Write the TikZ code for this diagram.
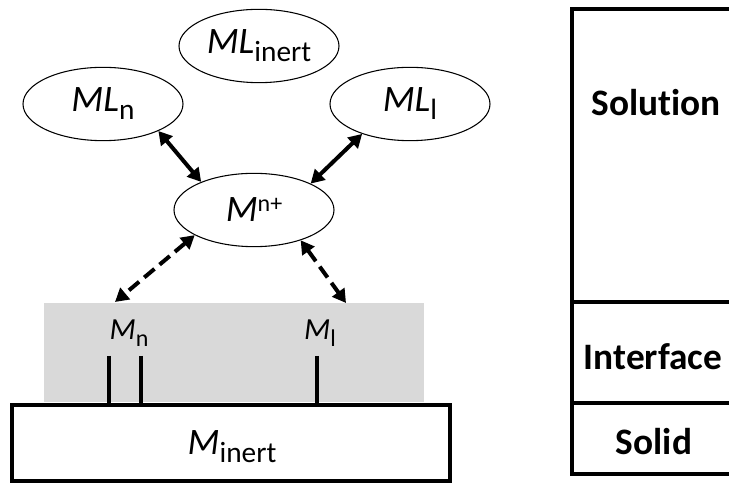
\documentclass[tikz,border=0pt]{standalone}
\usepackage{fontspec}
\setmainfont[Ligatures=NoCommon]{Carlito}
\usetikzlibrary{arrows.meta,shapes.geometric}
\newcommand\bigf{\fontsize{28}{30}\selectfont}
\newcommand\subf{\fontsize{22}{24}\selectfont}
\newcommand\supf{\fontsize{18}{20}\selectfont}
\newcommand\smallf{\fontsize{23}{26}\selectfont}
\newcommand\smsubf{\fontsize{18}{20}\selectfont}
\begin{document}
\begin{tikzpicture}[x=0.75pt,y=-0.75pt,
  ell/.style={ellipse,draw,line width=0.8pt,minimum width=120pt,minimum height=55pt,inner sep=0pt},
  solidarr/.style={line width=3pt,{Triangle[length=10pt,width=11pt]}-{Triangle[length=10pt,width=11pt]}},
  dasharr/.style={solidarr,dash pattern=on 10pt off 5pt},
  thickline/.style={line width=3pt},
  lbl/.style={inner sep=0pt}]
\useasboundingbox (0,0) rectangle (729,484);
\clip (0,0) rectangle (729,484);
% gray interface band
\fill[fill={rgb,255:red,217;green,217;blue,217}] (44,303) rectangle (424,402);
% pillars
\draw[thickline] (109,356) -- (109,404);
\draw[thickline] (141,356) -- (141,404);
\draw[thickline] (317,356) -- (317,404);
% inert solid
\node[draw,line width=3pt,minimum width=329pt,minimum height=57pt,inner sep=0pt] (Mi) at (231,443) {};
\node[lbl] (Mit) at (232,447) {\bigf\itshape M\upshape\raisebox{-6pt}{\subf inert}};
% ellipses
\node[ell] (MLi) at (259,46) {\bigf\itshape ML\upshape\raisebox{-6pt}{\subf inert}};
\node[ell] (MLn) at (103,104) {\bigf\itshape ML\upshape\raisebox{-6pt}{\subf n}};
\node[ell] (MLl) at (410,104) {\bigf\itshape ML\upshape\raisebox{-6pt}{\subf l}};
\node[ell] (Mnp) at (254,210) {\bigf\itshape M\upshape\raisebox{8pt}{\supf n+}};
% surface labels
\node[lbl] (Mn) at (129,333) {\smallf\itshape M\upshape\raisebox{-5pt}{\smsubf n}};
\node[lbl] (Ml) at (320,333) {\smallf\itshape M\upshape\raisebox{-5pt}{\smsubf l}};
\coordinate (an) at (115,302);
\coordinate (al) at (346,303);
% arrows
\draw[solidarr] (MLn.-26) -- (Mnp.152);
\draw[solidarr] (MLl.-148) -- (Mnp.25);
\draw[dasharr] (Mnp.-157) -- (an);
\draw[dasharr] (Mnp.-33) -- (al);
% right panel
\draw[line width=3pt] (740,9) -- (572,9) -- (572,474) -- (740,474);
\draw[line width=3pt] (572,302) -- (740,302);
\draw[line width=3pt] (572,403) -- (740,403);
\node[lbl] (sol) at (656,103) {\bigf\bfseries Solution};
\node[lbl] (int) at (653,357) {\bigf\bfseries Interface};
\node[lbl] (sld) at (654,442) {\bigf\bfseries Solid};
\end{tikzpicture}
\end{document}
